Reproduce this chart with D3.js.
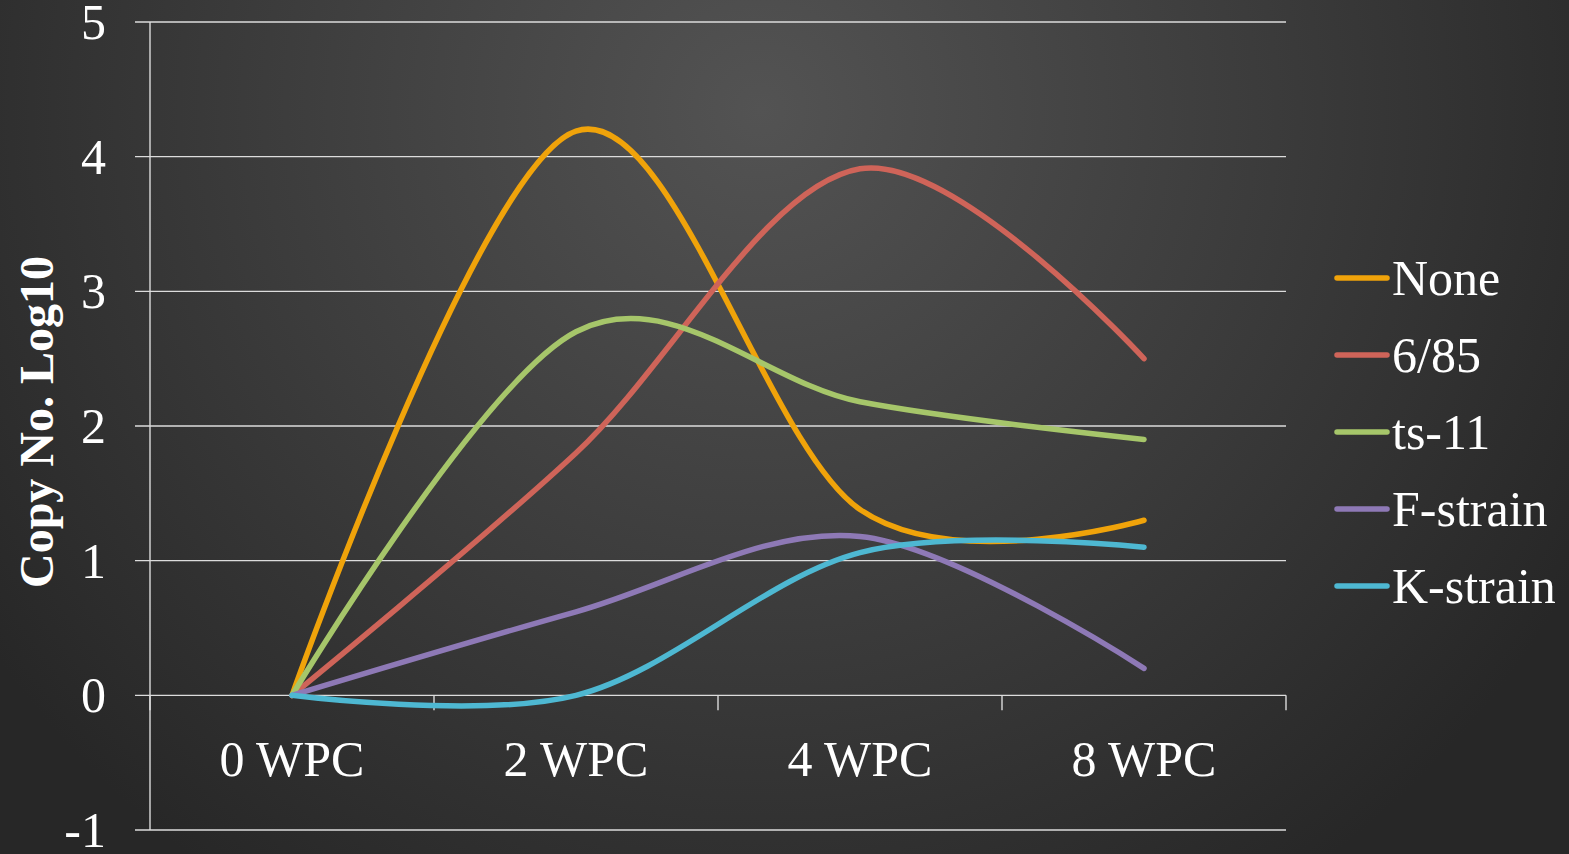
<!DOCTYPE html>
<html>
<head>
<meta charset="utf-8">
<script src="https://cdn.jsdelivr.net/npm/d3@7"></script>
<style>
  html, body { margin: 0; padding: 0; background: #2a2a2a; overflow: hidden; }
  svg { display: block; }
  text { font-family: "Liberation Serif", "Times New Roman", serif; fill: #ffffff; }
</style>
</head>
<body>
<script>
// Categories (weeks post challenge)
const categories = ["0 WPC", "2 WPC", "4 WPC", "8 WPC"];

// Copy number (log10) per strain
const seriesNames = ["None", "6/85", "ts-11", "F-strain", "K-strain"];
const noneValues    = [0, 4.19, 1.38, 1.30];
const s685Values    = [0, 1.80, 3.91, 2.50];
const ts11Values    = [0, 2.70, 2.18, 1.90];
const fStrainValues = [0, 0.62, 1.18, 0.20];
const kStrainValues = [0, 0.00, 1.06, 1.10];
const seriesColors  = ["#F0A30A", "#CF6459", "#A6C66A", "#8E79B6", "#4EB8D2"];

// Axis ticks
const yTicks = [-1, 0, 1, 2, 3, 4, 5];

const series = [noneValues, s685Values, ts11Values, fStrainValues, kStrainValues]
  .map((values, i) => ({ name: seriesNames[i], color: seriesColors[i], values }));

const W = 1569, H = 854;
const svg = d3.select("body").append("svg").attr("width", W).attr("height", H);

// Background: dark radial glow
const defs = svg.append("defs");
const grad = defs.append("radialGradient")
  .attr("id", "bg")
  .attr("gradientUnits", "userSpaceOnUse")
  .attr("cx", 760).attr("cy", 110).attr("r", 940);
grad.append("stop").attr("offset", "0%").attr("stop-color", "#535353");
grad.append("stop").attr("offset", "55%").attr("stop-color", "#3b3b3b");
grad.append("stop").attr("offset", "100%").attr("stop-color", "#272727");
svg.append("rect").attr("width", W).attr("height", H).attr("fill", "url(#bg)");

// Scales
const x = d3.scaleBand().domain(categories).range([150, 1286]).paddingInner(0).paddingOuter(0);
const xc = d => x(d) + x.bandwidth() / 2;
const y = d3.scaleLinear().domain([-1, 5]).range([830, 22]);

const plot = svg.append("g");

// Horizontal gridlines (including the zero baseline)
plot.selectAll("line.grid")
  .data(yTicks)
  .join("line")
  .attr("class", "grid")
  .attr("x1", 135).attr("x2", 1286)
  .attr("y1", d => y(d)).attr("y2", d => y(d))
  .attr("stroke", "#dcdcdc")
  .attr("stroke-width", 1.4);

// Vertical axis line
plot.append("line")
  .attr("x1", 150).attr("x2", 150)
  .attr("y1", y(5)).attr("y2", y(-1))
  .attr("stroke", "#dcdcdc")
  .attr("stroke-width", 1.4);

// Category boundary ticks on the zero line
const boundaries = categories.map(c => x(c)).concat([x(categories[categories.length - 1]) + x.bandwidth()]);
plot.selectAll("line.xtick")
  .data(boundaries)
  .join("line")
  .attr("class", "xtick")
  .attr("x1", d => d).attr("x2", d => d)
  .attr("y1", y(0)).attr("y2", y(0) + 15)
  .attr("stroke", "#dcdcdc")
  .attr("stroke-width", 1.4);

// Y tick labels
svg.selectAll("text.ylab")
  .data(yTicks)
  .join("text")
  .attr("class", "ylab")
  .attr("x", 106)
  .attr("y", d => y(d))
  .attr("dy", "0.34em")
  .attr("text-anchor", "end")
  .attr("font-size", 50)
  .text(d => d);

// X category labels
svg.selectAll("text.xlab")
  .data(categories)
  .join("text")
  .attr("class", "xlab")
  .attr("x", d => xc(d))
  .attr("y", 776)
  .attr("text-anchor", "middle")
  .attr("font-size", 50)
  .text(d => d);

// Y axis title
svg.append("text")
  .attr("transform", "translate(53,422) rotate(-90)")
  .attr("text-anchor", "middle")
  .attr("font-size", 48)
  .attr("font-weight", "bold")
  .text("Copy No. Log10");

// Smoothed series lines
const line = d3.line()
  .x((d, i) => xc(categories[i]))
  .y(d => y(d))
  .curve(d3.curveCardinal.tension(0));

plot.selectAll("path.series")
  .data(series)
  .join("path")
  .attr("class", "series")
  .attr("d", d => line(d.values))
  .attr("fill", "none")
  .attr("stroke", d => d.color)
  .attr("stroke-width", 5.5)
  .attr("stroke-linecap", "round")
  .attr("stroke-linejoin", "round");

// Legend
const legend = svg.append("g");
const legendY = i => 278 + i * 77;
legend.selectAll("line")
  .data(series)
  .join("line")
  .attr("x1", 1337).attr("x2", 1387)
  .attr("y1", (d, i) => legendY(i)).attr("y2", (d, i) => legendY(i))
  .attr("stroke", d => d.color)
  .attr("stroke-width", 5.5)
  .attr("stroke-linecap", "round");
legend.selectAll("text")
  .data(series)
  .join("text")
  .attr("x", 1392)
  .attr("y", (d, i) => legendY(i))
  .attr("dy", "0.34em")
  .attr("font-size", 50)
  .text(d => d.name);
</script>
</body>
</html>
